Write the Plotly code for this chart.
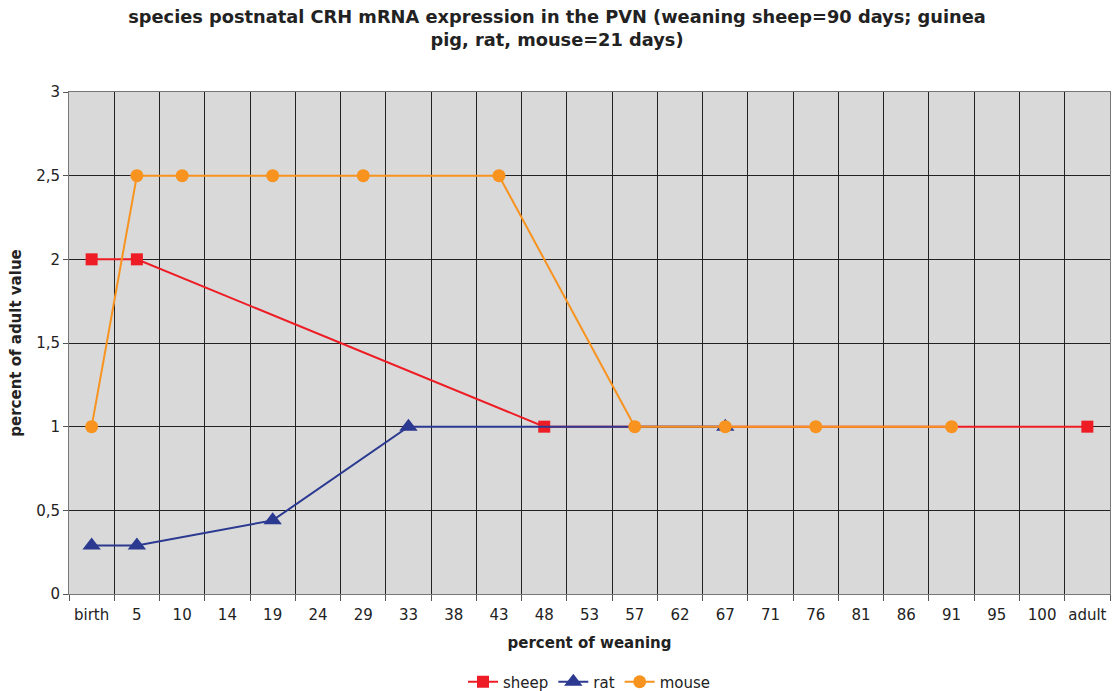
import plotly.graph_objects as go

categories = ["birth", "5", "10", "14", "19", "24", "29", "33", "38", "43", "48", "53",
              "57", "62", "67", "71", "76", "81", "86", "91", "95", "100", "adult"]

sheep = [2, 2, None, None, None, None, None, None, None, None, 1, None,
         None, None, None, None, None, None, None, None, None, None, 1]
rat = [0.29, 0.29, None, None, 0.44, None, None, 1, None, None, None, None,
       None, None, 1, None, None, None, None, None, None, None, None]
mouse = [1, 2.5, 2.5, None, 2.5, None, 2.5, None, None, 2.5, None, None,
         1, None, 1, None, 1, None, None, 1, None, None, None]

y_tickvals = [0, 0.5, 1, 1.5, 2, 2.5, 3]
y_ticktext = ["0", "0,5", "1", "1,5", "2", "2,5", "3"]

FONT = "DejaVu Sans"

fig = go.Figure()
fig.add_trace(go.Scatter(x=categories, y=sheep, name="sheep", mode="lines+markers",
                         connectgaps=True,
                         line=dict(color="#ee1c25", width=2),
                         marker=dict(symbol="square", size=12, color="#ee1c25")))
fig.add_trace(go.Scatter(x=categories, y=rat, name="rat", mode="lines+markers",
                         connectgaps=True,
                         line=dict(color="#2b3990", width=2),
                         marker=dict(symbol="triangle-up", size=16, color="#2b3990")))
fig.add_trace(go.Scatter(x=categories, y=mouse, name="mouse", mode="lines+markers",
                         connectgaps=True,
                         line=dict(color="#f7931e", width=2),
                         marker=dict(symbol="circle", size=13, color="#f7931e")))

fig.update_layout(
    width=1114, height=691,
    margin=dict(l=69, r=4, t=92, b=97, autoexpand=False),
    paper_bgcolor="white",
    plot_bgcolor="#d9d9d9",
    font=dict(family=FONT, size=15, color="#222222"),
    title=dict(text="species postnatal CRH mRNA expression in the PVN (weaning sheep=90 days; guinea<br>pig, rat, mouse=21 days)",
               x=0.5, xanchor="center", yref="container", y=0.967, yanchor="middle",
               font=dict(family=FONT, size=17.8, color="#222222", weight="bold")),
    showlegend=True,
    legend=dict(orientation="h", x=0.5, xanchor="center",
                yref="container", y=0.013, yanchor="middle",
                font=dict(family=FONT, size=15, color="#222222"),
                itemwidth=30, traceorder="normal"),
    xaxis=dict(
        type="category", categoryorder="array", categoryarray=categories,
        tickson="boundaries", ticks="outside", ticklen=6, tickcolor="#555555",
        ticklabelstandoff=7, tickangle=0,
        showgrid=True, gridcolor="#222222", gridwidth=1,
        showline=True, linecolor="#777777", linewidth=1, mirror=True,
        range=[-0.5, len(categories) - 0.5],
        tickfont=dict(family=FONT, size=15, color="#222222"),
        title=dict(text="<b>percent of weaning</b>", standoff=14,
                   font=dict(family=FONT, size=15, color="#222222")),
        zeroline=False,
    ),
    yaxis=dict(
        range=[0, 3], tickvals=y_tickvals, ticktext=y_ticktext,
        ticks="outside", ticklen=5, tickcolor="#555555",
        showgrid=True, gridcolor="#222222", gridwidth=1,
        showline=True, linecolor="#777777", linewidth=1, mirror=True,
        tickfont=dict(family=FONT, size=15, color="#222222"),
        title=dict(text="<b>percent of adult value</b>", standoff=10,
                   font=dict(family=FONT, size=15, color="#222222")),
        zeroline=False,
    ),
)

fig.write_html("out.html")
